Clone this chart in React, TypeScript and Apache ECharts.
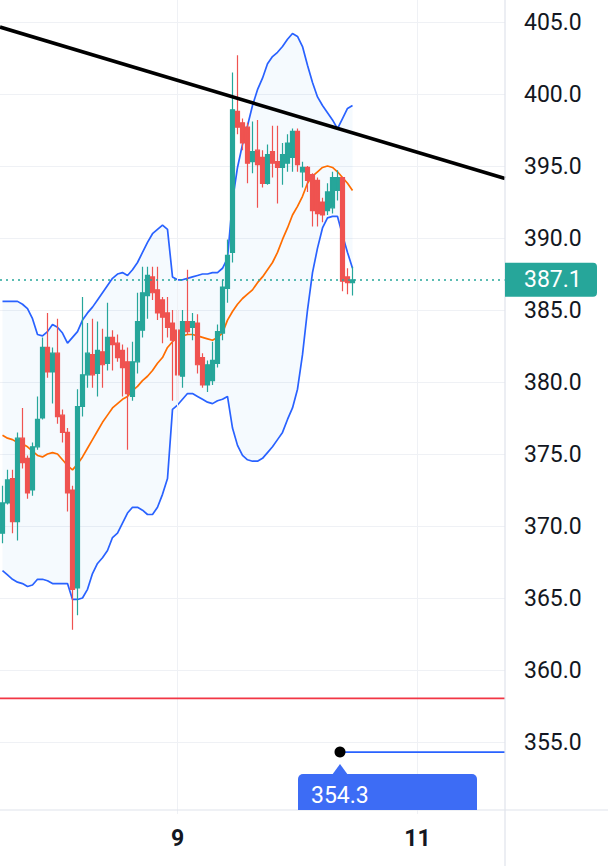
import React, { useEffect, useRef } from "react";
import * as echarts from "echarts";

// ---------- layout constants ----------
const W = 608;
const H = 866;
const GRID_RIGHT = 103; // plot ends at x = 505
const GRID_BOTTOM = 52; // value axis min (350) sits at y = 814
const AXIS_LINE_Y = 810;
const FONT = "Roboto, 'Noto Sans', sans-serif";

// ---------- data ----------
const FIRST_DAY = 7;
const FIRST_HOUR = 13;
const SLOT_COUNT = 101; // hourly slots on the time axis (incl. empty future)
const categories = Array.from({ length: SLOT_COUNT }, (_, i) => {
  const h = FIRST_HOUR + i;
  return `${FIRST_DAY + Math.floor(h / 24)} ${String(h % 24).padStart(2, "0")}:00`;
});
const xTickIndex = [35, 83];
const xTickLabels = ["9", "11"];

const opens = [
  369.5, 371.6, 373.3, 370.3, 376.1, 374.7, 372.5, 375.5, 377.5, 382.4,
  380.7, 382.0, 377.7, 376.5, 372.5, 365.7, 378.3, 380.5, 381.9, 380.6,
  382.1, 381.3, 383.1, 382.7, 382.2, 381.4, 379.0, 381.4, 383.6, 386.0,
  387.3, 386.4, 385.7, 384.8, 384.1, 383.6, 380.4, 384.2, 383.8, 384.1,
  381.7, 379.8, 380.1, 381.3, 383.4, 386.5, 389.0, 398.8, 398.0, 397.7,
  395.3, 396.1, 395.6, 393.8, 396.0, 395.3, 394.9, 395.2, 395.6, 397.4,
  394.6, 394.9, 394.4, 394.0, 392.5, 391.9, 392.1, 393.3, 394.2, 387.3,
  386.9,
];
const closes = [
  371.6, 373.2, 370.3, 376.1, 374.4, 372.3, 375.5, 377.4, 382.4, 380.7,
  382.0, 377.6, 376.5, 372.3, 365.6, 378.3, 380.5, 382.0, 380.5, 382.2,
  381.2, 383.1, 382.6, 381.7, 381.0, 379.2, 381.4, 384.2, 386.2, 387.4,
  386.2, 384.8, 384.5, 383.8, 382.9, 380.5, 384.2, 383.5, 384.2, 381.2,
  379.8, 381.2, 381.5, 383.5, 386.6, 388.8, 398.9, 397.7, 396.6, 395.2,
  396.0, 395.1, 393.8, 395.8, 395.2, 394.9, 395.8, 396.6, 397.4, 395.1,
  394.9, 394.0, 391.9, 391.7, 391.6, 393.2, 394.2, 394.2, 387.0, 386.9,
  387.1,
];
const lows = [
  368.8, 371.5, 369.5, 369.0, 374.0, 371.9, 372.1, 375.3, 377.4, 380.3,
  378.5, 377.1, 375.8, 371.0, 362.8, 363.8, 377.6, 379.6, 379.6, 379.0,
  379.6, 380.8, 380.8, 381.4, 379.0, 375.3, 378.7, 380.6, 383.1, 384.4,
  385.7, 384.3, 382.7, 383.1, 378.7, 378.7, 379.6, 383.3, 382.9, 380.6,
  379.6, 379.3, 379.8, 381.0, 382.9, 385.5, 388.3, 397.2, 396.1, 393.8,
  394.5, 392.1, 393.5, 393.7, 394.2, 392.4, 393.7, 394.6, 394.6, 394.6,
  393.5, 393.2, 390.8, 390.8, 391.1, 391.6, 391.7, 392.6, 386.3, 386.1,
  386.0,
];
const highs = [
  372.8, 373.9, 373.9, 376.5, 378.2, 374.9, 375.8, 379.0, 383.1, 384.8,
  382.4, 384.4, 378.1, 376.8, 372.8, 379.5, 385.9, 384.1, 384.4, 384.2,
  383.7, 385.5, 383.6, 383.3, 382.6, 382.4, 382.8, 386.2, 388.0, 388.0,
  388.0, 388.0, 385.9, 385.9, 385.0, 385.0, 385.0, 387.8, 384.8, 384.7,
  382.0, 381.5, 382.8, 384.0, 387.1, 389.9, 401.5, 402.7, 398.3, 398.0,
  398.1, 398.2, 396.1, 396.5, 397.8, 397.8, 396.6, 397.2, 397.6, 397.6,
  395.3, 395.0, 394.5, 394.2, 392.8, 393.8, 394.6, 394.7, 394.2, 387.9,
  388.0,
];

const bbUpper = [
  385.6, 385.6, 385.6, 385.6, 385.4, 385.1, 384.4, 383.3, 383.2, 383.5,
  384.0, 383.8, 383.4, 382.7, 383.1, 383.5, 384.3, 384.8, 385.2, 385.7,
  386.2, 386.7, 387.2, 387.5, 387.6, 387.4, 387.8, 388.3, 389.0, 389.7,
  390.3, 390.6, 390.9, 390.6, 387.3, 387.1, 387.1, 387.2, 387.3, 387.4,
  387.5, 387.5, 387.6, 387.6, 387.9, 388.6, 392.6, 394.9, 396.5, 397.8,
  399.2, 400.3, 401.1, 402.1, 402.6, 402.9, 403.3, 403.8, 404.2, 404.0,
  403.3, 402.0, 400.8, 399.8, 399.2, 398.7, 398.2, 397.6, 398.3, 399.0,
  399.2,
];
const bbMiddle = [
  376.3, 376.1, 376.0, 375.8, 375.7, 375.5, 375.2, 374.9, 374.8, 375.0,
  375.1, 375.0, 374.6, 374.2, 373.9, 374.3, 374.8, 375.4, 376.0, 376.6,
  377.2, 377.7, 378.2, 378.5, 378.8, 379.0, 379.4, 379.7, 380.1, 380.4,
  380.8, 381.3, 381.7, 382.4, 382.8, 383.1, 383.2, 383.3, 383.3, 383.2,
  383.1, 383.0, 382.9, 383.1, 383.4, 384.3, 384.9, 385.4, 385.8, 386.1,
  386.4, 386.9, 387.3, 387.8, 388.3, 389.0, 389.9, 390.7, 391.6, 392.2,
  392.9, 393.8, 394.3, 394.6, 394.9, 395.0, 394.9, 394.6, 394.2, 393.8,
  393.3,
];
const bbLower = [
  366.9, 366.6, 366.3, 366.1, 366.0, 365.8, 365.9, 366.3, 366.3, 366.2,
  366.0, 366.0, 366.0, 366.0, 364.9, 364.9, 365.0, 365.6, 366.7, 367.4,
  367.8, 368.3, 369.2, 369.5, 370.2, 370.9, 371.3, 371.3, 371.1, 370.8,
  370.8, 371.3, 372.2, 373.3, 378.1, 378.4, 378.8, 379.2, 379.2, 379.0,
  378.8, 378.6, 378.5, 378.7, 378.8, 379.0, 376.8, 375.6, 374.9, 374.6,
  374.5, 374.5, 374.7, 375.1, 375.5, 376.0, 376.5, 377.4, 378.2, 379.5,
  381.9, 385.0, 387.6, 389.3, 390.7, 391.4, 391.5, 391.5, 390.2, 389.0,
  387.9,
];

const lastPrice = 387.1;
const trendLine = [
  [-0.5, 404.65],
  [100.5, 394.13],
];
const supportLevel = 358.03;
const alertBar = 67.5;
const alertPrice = 354.3;

const Y_MIN = 350;
const Y_MAX = 406.53;
const Y_STEP = 5;
const Y_LABEL_MIN = 355;
const Y_LABEL_MAX = 405;

// ---------- colours ----------
const UP = "#26a69a";
const DOWN = "#ef5350";
const BAND = "#2962ff";
const BASIS = "#ff6d00";
const GRIDC = "#eff1f5";
const BORDER = "#e0e3eb";
const TEXT = "#131722";
const ALERT = "#3d6cf5";

export default function App() {
  const ref = useRef<HTMLDivElement | null>(null);

  useEffect(() => {
    if (!ref.current) return;
    const chart = echarts.init(ref.current, undefined, { renderer: "svg" });

    const candleData = opens.map((o, i) => [o, closes[i], lows[i], highs[i]]);
    const fillDiff = bbUpper.map((u, i) => +(u - bbLower[i]).toFixed(2));
    const tickCount = Math.floor((Y_MAX - Y_MIN) / Y_STEP) + 2;
    const splitColors = Array.from({ length: tickCount }, (_, i) =>
      i === 0 || i === tickCount - 1 ? "rgba(0,0,0,0)" : GRIDC
    );

    const lineBase = {
      type: "line" as const,
      symbol: "none",
      showSymbol: false,
      silent: true,
      animation: false,
    };

    chart.setOption({
      animation: false,
      grid: { left: 0, right: GRID_RIGHT, top: 0, bottom: GRID_BOTTOM, containLabel: false },
      xAxis: [
        {
          type: "category",
          data: categories,
          boundaryGap: true,
          axisLine: { show: false },
          axisTick: { show: false },
          splitLine: { show: false },
          axisLabel: {
            interval: (i: number) => xTickIndex.includes(i),
            formatter: (_v: string, i: number) => {
              const k = xTickIndex.indexOf(i);
              return k >= 0 ? xTickLabels[k] : "";
            },
            color: TEXT,
            fontSize: 23,
            fontWeight: "bold",
            fontFamily: FONT,
            margin: 24,
            verticalAlign: "middle",
          },
        },
        { type: "value", min: -0.5, max: SLOT_COUNT - 0.5, show: false },
      ],
      yAxis: {
        type: "value",
        position: "right",
        min: Y_MIN,
        max: Y_MAX,
        interval: Y_STEP,
        axisLine: { show: false },
        axisTick: { show: false },
        splitLine: { show: true, lineStyle: { color: splitColors, width: 1 } },
        axisLabel: {
          margin: 19,
          align: "left",
          color: TEXT,
          fontSize: 23,
          fontFamily: FONT,
          formatter: (v: number) =>
            v >= Y_LABEL_MIN - 1e-6 && v <= Y_LABEL_MAX + 1e-6 ? v.toFixed(1) : "",
        },
      },
      series: [
        {
          ...lineBase,
          name: "vgrid",
          xAxisIndex: 1,
          data: [],
          z: 0,
          markLine: {
            silent: true,
            symbol: ["none", "none"],
            label: { show: false },
            lineStyle: { color: GRIDC, width: 1, type: "solid" },
            data: xTickIndex.map((i) => ({ xAxis: i })),
          },
        },
        {
          ...lineBase,
          name: "bbBase",
          data: bbLower,
          stack: "bb",
          lineStyle: { opacity: 0 },
          z: 1,
        },
        {
          ...lineBase,
          name: "bbFill",
          data: fillDiff,
          stack: "bb",
          lineStyle: { opacity: 0 },
          areaStyle: { color: "rgba(33,150,243,0.065)" },
          z: 1,
        },
        { ...lineBase, name: "upper", data: bbUpper, lineStyle: { color: BAND, width: 1.7 }, z: 3 },
        { ...lineBase, name: "lower", data: bbLower, lineStyle: { color: BAND, width: 1.7 }, z: 3 },
        { ...lineBase, name: "basis", data: bbMiddle, lineStyle: { color: BASIS, width: 1.7 }, z: 3 },
        {
          type: "candlestick",
          name: "price",
          data: candleData,
          barWidth: 3.6,
          z: 4,
          itemStyle: {
            color: UP,
            color0: DOWN,
            borderColor: UP,
            borderColor0: DOWN,
            borderWidth: 1.2,
          },
          markLine: {
            silent: true,
            symbol: ["none", "none"],
            label: { show: false },
            lineStyle: { color: UP, width: 1.6, type: [2, 4] },
            data: [{ yAxis: lastPrice }],
          },
        },
        {
          ...lineBase,
          name: "support",
          xAxisIndex: 1,
          data: [
            [-0.5, supportLevel],
            [SLOT_COUNT - 0.5, supportLevel],
          ],
          lineStyle: { color: "#f23645", width: 1.6 },
          z: 5,
        },
        {
          ...lineBase,
          name: "trend",
          xAxisIndex: 1,
          data: trendLine,
          lineStyle: { color: "#000000", width: 3.6 },
          z: 6,
        },
        {
          ...lineBase,
          name: "alertLine",
          xAxisIndex: 1,
          data: [
            [alertBar, alertPrice],
            [SLOT_COUNT - 0.5, alertPrice],
          ],
          lineStyle: { color: BAND, width: 1.6 },
          z: 6,
        },
        {
          type: "scatter",
          name: "alertDot",
          xAxisIndex: 1,
          data: [[alertBar, alertPrice]],
          symbolSize: 11,
          itemStyle: { color: "#000000", opacity: 1 },
          silent: true,
          z: 7,
        },
      ],
    });

    const plotRight = W - GRID_RIGHT;
    const priceY = chart.convertToPixel({ yAxisIndex: 0 }, lastPrice) as number;
    const alertPt = chart.convertToPixel({ xAxisIndex: 1, yAxisIndex: 0 }, [
      alertBar,
      alertPrice,
    ]) as number[];
    const ax = alertPt[0];
    const ay = alertPt[1];
    const boxTop = ay + 22;

    chart.setOption({
      graphic: [
        {
          type: "line",
          z: 50,
          silent: true,
          shape: { x1: plotRight, y1: 0, x2: plotRight, y2: H },
          style: { stroke: BORDER, lineWidth: 1.2 },
        },
        {
          type: "line",
          z: 50,
          silent: true,
          shape: { x1: 0, y1: AXIS_LINE_Y, x2: W, y2: AXIS_LINE_Y },
          style: { stroke: BORDER, lineWidth: 1.2 },
        },
        {
          type: "rect",
          z: 60,
          silent: true,
          shape: { x: plotRight, y: priceY - 17, width: 92, height: 34, r: [0, 4, 4, 0] },
          style: { fill: UP },
        },
        {
          type: "text",
          z: 61,
          silent: true,
          x: plotRight + 19,
          y: priceY,
          style: {
            text: lastPrice.toFixed(1),
            fill: "#ffffff",
            fontSize: 23,
            fontFamily: FONT,
            verticalAlign: "middle",
            align: "left",
          },
        },
        {
          type: "polygon",
          z: 60,
          silent: true,
          shape: {
            points: [
              [ax - 8, boxTop + 1],
              [ax, ay + 12],
              [ax + 8, boxTop + 1],
            ],
          },
          style: { fill: ALERT },
        },
        {
          type: "rect",
          z: 60,
          silent: true,
          shape: { x: ax - 42, y: boxTop, width: 179, height: AXIS_LINE_Y - boxTop, r: [5, 5, 0, 0] },
          style: { fill: ALERT },
        },
        {
          type: "text",
          z: 61,
          silent: true,
          x: ax - 29,
          y: boxTop + 21,
          style: {
            text: alertPrice.toFixed(1),
            fill: "#ffffff",
            fontSize: 23,
            fontFamily: FONT,
            verticalAlign: "middle",
            align: "left",
          },
        },
      ],
    });

    return () => chart.dispose();
  }, []);

  return (
    <div
      ref={ref}
      style={{ position: "fixed", left: 0, top: 0, width: W, height: H, background: "#ffffff" }}
    />
  );
}
